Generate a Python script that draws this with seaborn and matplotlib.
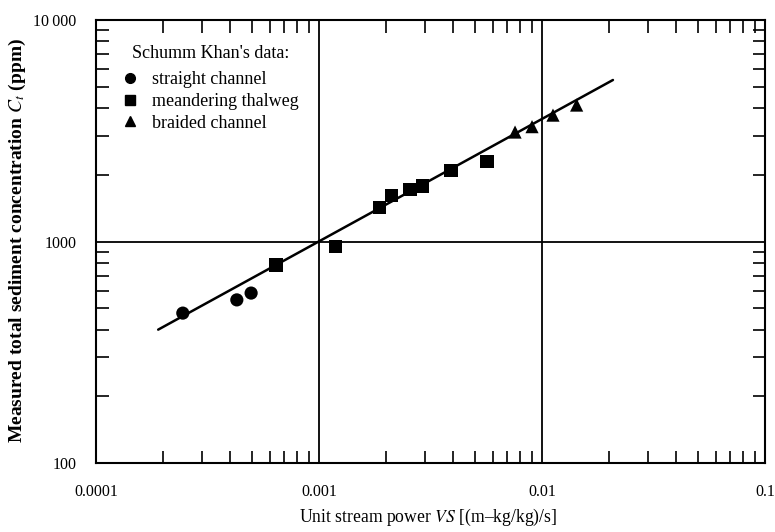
import numpy as np
import pandas as pd
import seaborn as sns
import matplotlib.pyplot as plt
from matplotlib.lines import Line2D
from matplotlib.ticker import LogLocator, NullFormatter

# --- data ---
straight_x = [0.000245, 0.000428, 0.000496]
straight_y = [475, 545, 585]

meander_x = [0.000641, 0.00119, 0.00186, 0.00212, 0.00256, 0.00292, 0.00391, 0.00567]
meander_y = [783, 950, 1430, 1620, 1710, 1780, 2100, 2300]

braided_x = [0.00757, 0.00902, 0.0112, 0.0143]
braided_y = [3120, 3300, 3720, 4130]

fit_x = [0.00019, 0.0208]
fit_y = [400, 5360]

labels = ["straight channel", "meandering thalweg", "braided channel"]

df = pd.DataFrame({
    "x": straight_x + meander_x + braided_x,
    "y": straight_y + meander_y + braided_y,
    "group": [labels[0]] * len(straight_x) + [labels[1]] * len(meander_x)
             + [labels[2]] * len(braided_x),
})
fit = pd.DataFrame({"x": fit_x, "y": fit_y})

sns.set_style("ticks")
plt.rcParams["font.family"] = ["Liberation Serif", "DejaVu Serif"]
plt.rcParams["mathtext.fontset"] = "stix"
plt.rcParams["text.color"] = "black"
plt.rcParams["axes.labelcolor"] = "black"

fig = plt.figure(figsize=(7.75, 5.32), dpi=100)
ax = fig.add_axes([0.1239, 0.1297, 0.8632, 0.8327])

sns.lineplot(data=fit, x="x", y="y", color="black", lw=1.8, ax=ax, legend=False)
sns.scatterplot(data=df, x="x", y="y", style="group", style_order=labels,
                markers={labels[0]: "o", labels[1]: "s", labels[2]: "^"},
                color="black", s=90, edgecolor="none", ax=ax, legend=False)

ax.set_xscale("log")
ax.set_yscale("log")
ax.set_xlim(0.0001, 0.1)
ax.set_ylim(100, 10000)

ax.set_xticks([0.0001, 0.001, 0.01, 0.1], ["0.0001", "0.001", "0.01", "0.1"])
ax.set_yticks([100, 1000, 10000], ["100", "1000", "10\u2009000"])
ax.xaxis.set_minor_locator(LogLocator(base=10, subs=np.arange(2, 10)))
ax.yaxis.set_minor_locator(LogLocator(base=10, subs=np.arange(2, 10)))
ax.xaxis.set_minor_formatter(NullFormatter())
ax.yaxis.set_minor_formatter(NullFormatter())

ax.tick_params(which="both", direction="in", top=True, right=True,
               colors="black", labelcolor="black", labelsize=11.5)
ax.tick_params(which="major", length=0, width=1.3)
ax.tick_params(which="minor", length=9, width=1.2)
ax.tick_params(axis="x", which="major", pad=15)
ax.tick_params(axis="y", which="major", pad=14)

ax.grid(which="major", color="black", lw=1.3)
for sp in ax.spines.values():
    sp.set_linewidth(1.5)
    sp.set_color("black")

ax.set_xlabel("Unit stream power $VS$ [(m\u2013kg/kg)/s]", fontsize=12.7)
ax.set_ylabel("Measured total sediment concentration $C_t$ (ppm)",
              fontsize=14, fontweight="bold")
ax.xaxis.set_label_coords(0.497, -0.1)
ax.yaxis.set_label_coords(-0.102, 0.503)

# legend: title drawn as text so the markers can sit left of it
ax.text(0.0538, 0.9235, "Schumm Khan's data:", transform=ax.transAxes,
        ha="left", va="center", fontsize=13, color="black")
handles = [Line2D([], [], ls="none", marker=m, color="black", markersize=7)
           for m in ["o", "s", "^"]]
ax.legend(handles, labels, loc="upper left", bbox_to_anchor=(0.0404, 0.884),
          frameon=False, fontsize=13, handletextpad=0.8, labelspacing=0.26,
          handlelength=0.8, borderpad=0, borderaxespad=0, labelcolor="black")

fig.savefig("out.png", dpi=100)
